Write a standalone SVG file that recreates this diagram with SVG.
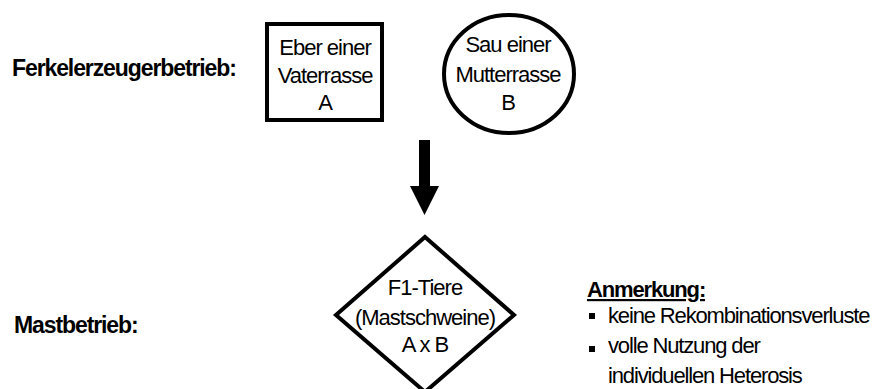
<svg xmlns="http://www.w3.org/2000/svg" width="875" height="389" viewBox="0 0 875 389">
  <style>
    text { font-family: "Liberation Sans", Arial, sans-serif; fill: #000; }
    .lbl { font-size: 23px; font-weight: bold; letter-spacing: -1.1px; }
    .node { font-size: 22px; letter-spacing: -1px; text-anchor: middle; }
    .note { font-size: 22px; letter-spacing: -1.15px; }
    .shape { fill: #fff; stroke: #000; stroke-width: 4; }
  </style>

  <!-- row labels -->
  <text class="lbl" x="12" y="76">Ferkelerzeugerbetrieb:</text>
  <text class="lbl" x="14" y="333" font-size="22">Mastbetrieb:</text>

  <!-- boar of the sire line -->
  <g id="eber">
    <rect class="shape" x="267" y="24" width="115" height="96"/>
    <text class="node" x="325" y="55">Eber einer</text>
    <text class="node" x="325" y="83">Vaterrasse</text>
    <text class="node" x="325" y="110">A</text>
  </g>

  <!-- sow of the dam line -->
  <g id="sau">
    <ellipse class="shape" cx="509" cy="74" rx="65" ry="59"/>
    <text class="node" x="508" y="52">Sau einer</text>
    <text class="node" x="508" y="82">Mutterrasse</text>
    <text class="node" x="508" y="110">B</text>
  </g>

  <!-- crossing arrow -->
  <g id="connectors">
    <rect x="419" y="140" width="11" height="47" fill="#000"/>
    <polygon points="410,186 439,186 424.5,215" fill="#000"/>
  </g>

  <!-- F1 fattening pigs -->
  <g id="f1">
    <polygon class="shape" points="425,237 514,315 425,392 336,315"/>
    <text class="node" x="425" y="295">F1-Tiere</text>
    <text class="node" x="425" y="325">(Mastschweine)</text>
    <text class="node" x="425" y="352">A x B</text>
  </g>

  <!-- remarks -->
  <g id="anmerkung">
    <text class="note" x="587" y="297" font-weight="bold" letter-spacing="-1.05" text-decoration="underline">Anmerkung:</text>
    <rect x="589" y="313" width="6" height="6" fill="#000"/>
    <text class="note" x="608" y="323">keine Rekombinationsverluste</text>
    <rect x="589" y="346" width="6" height="6" fill="#000"/>
    <text class="note" x="608" y="353">volle Nutzung der</text>
    <text class="note" x="608" y="383">individuellen Heterosis</text>
  </g>
</svg>
